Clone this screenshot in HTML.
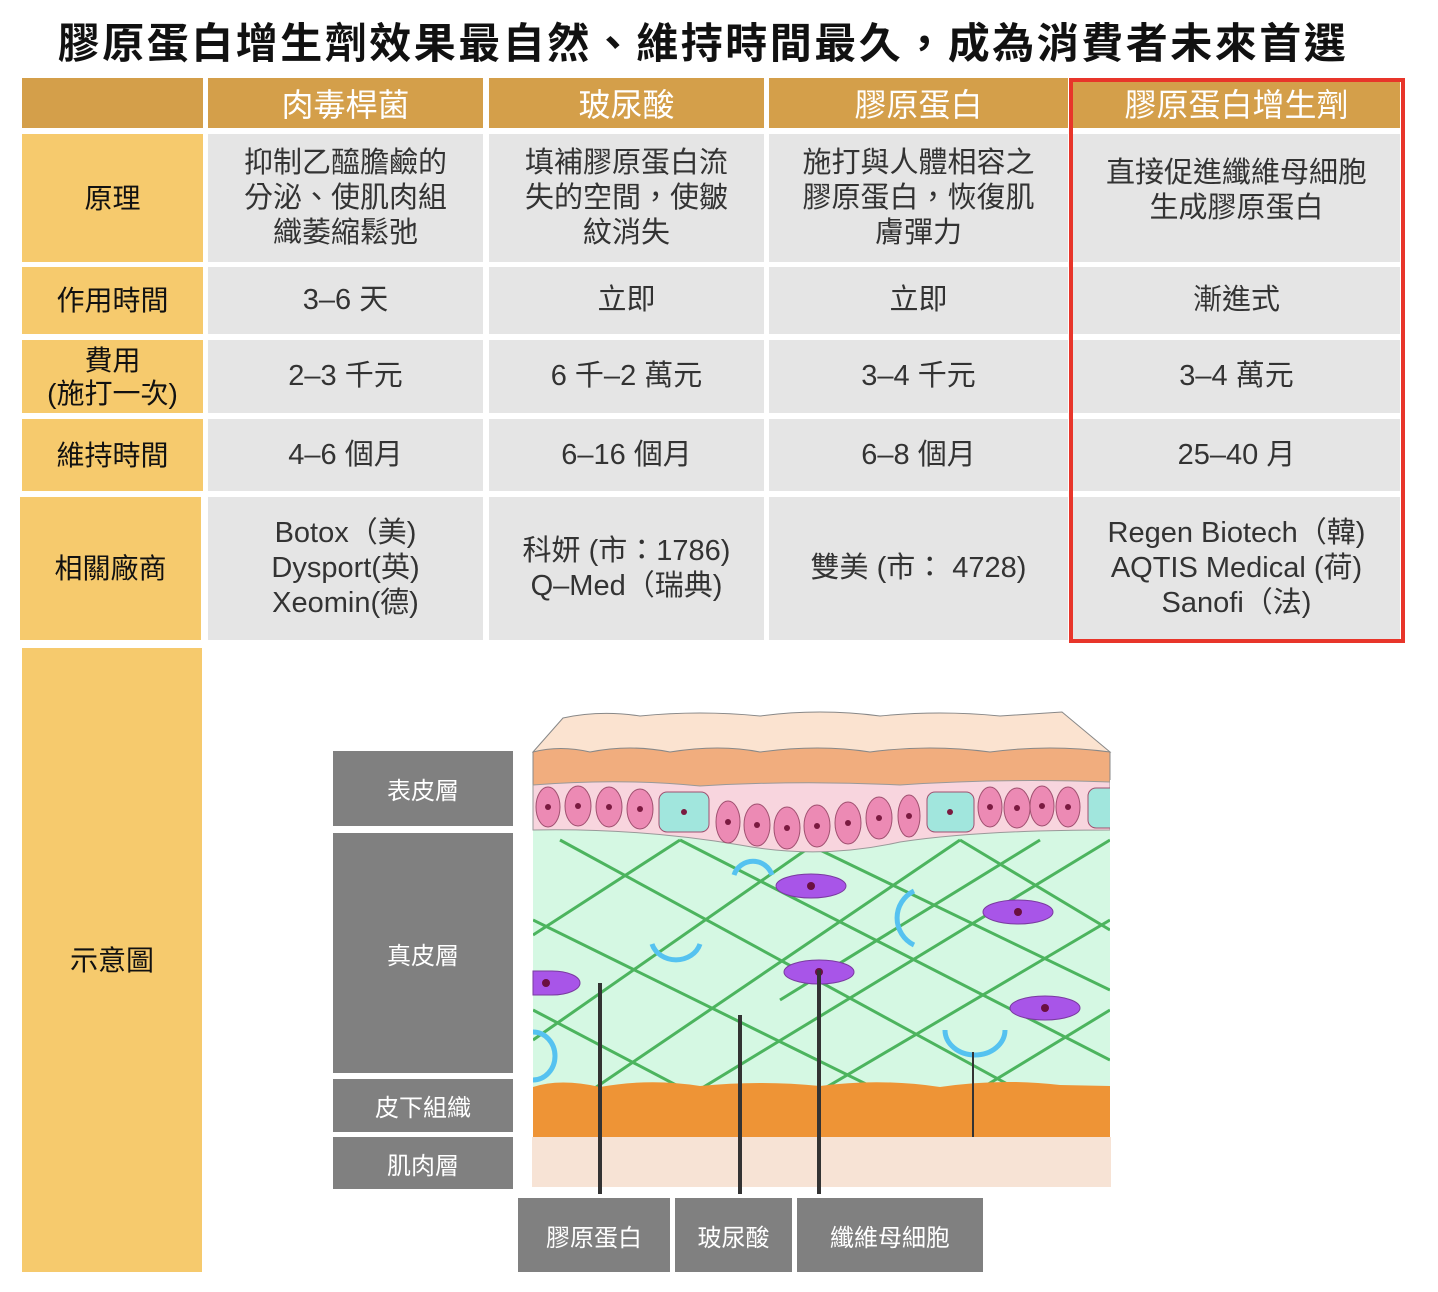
<!DOCTYPE html>
<html><head><meta charset="utf-8"><style>
body{margin:0;width:1438px;height:1292px;background:#fff;position:relative;overflow:hidden;font-family:"Liberation Sans","Noto Sans CJK TC",sans-serif;}
.a{position:absolute;display:flex;align-items:center;justify-content:center;text-align:center;box-sizing:border-box;}
.h{background:#d49f4a;color:#fff;font-size:32px;}
.l{background:#f6ca6d;color:#111;font-size:28px;line-height:33px;}
.d{background:#e5e5e5;color:#333;font-size:29px;line-height:35px;}
.g{background:#808080;color:#fff;font-size:24px;}
</style></head><body>
<div class="a" style="left:0;top:12px;width:1406px;height:56px;font-size:42px;font-weight:bold;color:#111;letter-spacing:2.5px;">膠原蛋白增生劑效果最自然、維持時間最久，成為消費者未來首選</div>

<div class="a h" style="left:22px;top:78px;width:181px;height:50px;"></div>
<div class="a h" style="left:208px;top:78px;width:275px;height:50px;">肉毒桿菌</div>
<div class="a h" style="left:489px;top:78px;width:275px;height:50px;">玻尿酸</div>
<div class="a h" style="left:769px;top:78px;width:299px;height:50px;">膠原蛋白</div>
<div class="a h" style="left:1073px;top:78px;width:327px;height:50px;">膠原蛋白增生劑</div>

<div class="a l" style="left:22px;top:134px;width:181px;height:128px;">原理</div>
<div class="a d" style="left:208px;top:134px;width:275px;height:128px;">抑制乙醯膽鹼的<br>分泌、使肌肉組<br>織萎縮鬆弛</div>
<div class="a d" style="left:489px;top:134px;width:275px;height:128px;">填補膠原蛋白流<br>失的空間，使皺<br>紋消失</div>
<div class="a d" style="left:769px;top:134px;width:299px;height:128px;">施打與人體相容之<br>膠原蛋白，恢復肌<br>膚彈力</div>
<div class="a d" style="left:1073px;top:134px;width:327px;height:128px;padding-bottom:14px;">直接促進纖維母細胞<br>生成膠原蛋白</div>

<div class="a l" style="left:22px;top:267px;width:181px;height:67px;">作用時間</div>
<div class="a d" style="left:208px;top:267px;width:275px;height:67px;">3–6 天</div>
<div class="a d" style="left:489px;top:267px;width:275px;height:67px;">立即</div>
<div class="a d" style="left:769px;top:267px;width:299px;height:67px;">立即</div>
<div class="a d" style="left:1073px;top:267px;width:327px;height:67px;">漸進式</div>

<div class="a l" style="left:22px;top:340px;width:181px;height:73px;">費用<br>(施打一次)</div>
<div class="a d" style="left:208px;top:340px;width:275px;height:73px;">2–3 千元</div>
<div class="a d" style="left:489px;top:340px;width:275px;height:73px;">6 千–2 萬元</div>
<div class="a d" style="left:769px;top:340px;width:299px;height:73px;">3–4 千元</div>
<div class="a d" style="left:1073px;top:340px;width:327px;height:73px;">3–4 萬元</div>

<div class="a l" style="left:22px;top:419px;width:181px;height:72px;">維持時間</div>
<div class="a d" style="left:208px;top:419px;width:275px;height:72px;">4–6 個月</div>
<div class="a d" style="left:489px;top:419px;width:275px;height:72px;">6–16 個月</div>
<div class="a d" style="left:769px;top:419px;width:299px;height:72px;">6–8 個月</div>
<div class="a d" style="left:1073px;top:419px;width:327px;height:72px;">25–40 月</div>

<div class="a l" style="left:20px;top:497px;width:181px;height:143px;">相關廠商</div>
<div class="a d" style="left:208px;top:497px;width:275px;height:143px;">Botox（美)<br>Dysport(英)<br>Xeomin(德)</div>
<div class="a d" style="left:489px;top:497px;width:275px;height:143px;">科妍 (市：1786)<br>Q–Med（瑞典)</div>
<div class="a d" style="left:769px;top:497px;width:299px;height:143px;">雙美 (市： 4728)</div>
<div class="a d" style="left:1073px;top:497px;width:327px;height:143px;">Regen Biotech（韓)<br>AQTIS Medical (荷)<br>Sanofi（法)</div>

<div style="position:absolute;left:1069px;top:78px;width:336px;height:565px;border:4px solid #e8352a;box-sizing:border-box;"></div>

<div class="a l" style="left:22px;top:648px;width:180px;height:624px;">示意圖</div>

<div class="a g" style="left:333px;top:751px;width:180px;height:75px;">表皮層</div>
<div class="a g" style="left:333px;top:833px;width:180px;height:240px;">真皮層</div>
<div class="a g" style="left:333px;top:1079px;width:180px;height:53px;">皮下組織</div>
<div class="a g" style="left:333px;top:1137px;width:180px;height:52px;">肌肉層</div>
<div class="a g" style="left:518px;top:1198px;width:152px;height:74px;">膠原蛋白</div>
<div class="a g" style="left:675px;top:1198px;width:117px;height:74px;">玻尿酸</div>
<div class="a g" style="left:797px;top:1198px;width:186px;height:74px;">纖維母細胞</div>

<svg style="position:absolute;left:0;top:0" width="1438" height="1292">
<defs><clipPath id="c"><rect x="533" y="830" width="577" height="260"/></clipPath></defs>
<rect x="532" y="1137" width="579" height="50" fill="#f7e3d5"/>
<path d="M533 752 L563 718 Q600 710 640 716 Q700 710 760 716 Q820 708 880 716 Q940 710 1000 716 L1062 712 L1110 752 Z" fill="#fbe3d0" stroke="#888" stroke-width="1"/>
<path d="M533 752 Q560 745 590 752 Q630 744 670 752 Q720 744 760 752 Q820 744 870 752 Q930 744 990 752 Q1050 744 1110 752 L1110 790 L533 790 Z" fill="#f1ad7e" stroke="#888" stroke-width="1"/>
<rect x="533" y="828" width="577" height="259" fill="#d5f8e3"/>
<g clip-path="url(#c)" stroke="#4cb45e" stroke-width="3" fill="none">
<path d="M560 840 L1110 1140"/><path d="M680 840 L1110 1060"/><path d="M820 850 L1110 990"/><path d="M960 840 L1110 930"/>
<path d="M533 920 L1000 1150"/><path d="M533 1010 L800 1150"/>
<path d="M680 840 L533 935"/><path d="M820 840 L533 1040"/><path d="M960 840 L533 1130"/><path d="M1110 840 L600 1150"/>
<path d="M1110 920 L720 1150"/><path d="M1110 1010 L880 1150"/><path d="M1040 840 L780 1000"/>
</g>
<path d="M533 785 Q620 778 700 786 Q800 780 900 785 Q1000 778 1110 782 L1110 830 Q980 830 900 842 Q820 860 740 845 Q640 828 533 830 Z" fill="#f8d5de" stroke="#999" stroke-width="1"/>
<g stroke="#a05070" stroke-width="1">
<ellipse cx="548" cy="807" rx="12" ry="20" fill="#ec8ab4"/><ellipse cx="578" cy="806" rx="13" ry="20" fill="#ec8ab4"/><ellipse cx="609" cy="807" rx="13" ry="20" fill="#ec8ab4"/><ellipse cx="640" cy="809" rx="13" ry="20" fill="#ec8ab4"/>
<rect x="659" y="792" width="50" height="40" rx="8" fill="#a1e6dd"/>
<ellipse cx="728" cy="822" rx="12" ry="21" fill="#ec8ab4"/><ellipse cx="757" cy="825" rx="13" ry="21" fill="#ec8ab4"/><ellipse cx="787" cy="828" rx="13" ry="21" fill="#ec8ab4"/><ellipse cx="817" cy="826" rx="13" ry="21" fill="#ec8ab4"/><ellipse cx="848" cy="823" rx="13" ry="21" fill="#ec8ab4"/><ellipse cx="879" cy="818" rx="13" ry="21" fill="#ec8ab4"/><ellipse cx="909" cy="816" rx="11" ry="21" fill="#ec8ab4"/>
<rect x="927" y="792" width="47" height="40" rx="8" fill="#a1e6dd"/>
<ellipse cx="990" cy="807" rx="12" ry="20" fill="#ec8ab4"/><ellipse cx="1017" cy="808" rx="13" ry="20" fill="#ec8ab4"/><ellipse cx="1042" cy="806" rx="12" ry="20" fill="#ec8ab4"/><ellipse cx="1068" cy="807" rx="12" ry="20" fill="#ec8ab4"/>
<rect x="1088" y="788" width="30" height="40" rx="8" fill="#a1e6dd"/>
</g>
<g fill="#7a1a40">
<circle cx="548" cy="807" r="3"/><circle cx="578" cy="806" r="3"/><circle cx="609" cy="807" r="3"/><circle cx="640" cy="809" r="3"/><circle cx="684" cy="812" r="3"/><circle cx="728" cy="822" r="3"/><circle cx="757" cy="825" r="3"/><circle cx="787" cy="828" r="3"/><circle cx="817" cy="826" r="3"/><circle cx="848" cy="823" r="3"/><circle cx="879" cy="818" r="3"/><circle cx="909" cy="816" r="3"/><circle cx="950" cy="812" r="3"/><circle cx="990" cy="807" r="3"/><circle cx="1017" cy="808" r="3"/><circle cx="1042" cy="806" r="3"/><circle cx="1068" cy="807" r="3"/>
</g>
<rect x="1110" y="780" width="10" height="60" fill="#fff"/>
<g fill="#a855e8" stroke="#7a3aa0" stroke-width="1">
<ellipse cx="811" cy="886" rx="35" ry="12"/><ellipse cx="1018" cy="912" rx="35" ry="12"/><ellipse cx="819" cy="972" rx="35" ry="12"/><ellipse cx="1045" cy="1008" rx="35" ry="12"/>
<path d="M533 971 L552 971 A28 12 0 0 1 552 995 L533 995 Z"/>
</g>
<g fill="#6a1040"><circle cx="811" cy="886" r="4"/><circle cx="1018" cy="912" r="4"/><circle cx="819" cy="972" r="4"/><circle cx="1045" cy="1008" r="4"/><circle cx="546" cy="983" r="4"/></g>
<g stroke="#55c2f0" stroke-width="5" fill="none">
<path d="M734 875 A20 20 0 0 1 772 875"/><path d="M914 891 A30 30 0 0 0 914 945"/><path d="M652 944 A25 22 0 0 0 700 944"/><path d="M533 1032 A22 24 0 0 1 533 1080"/><path d="M945 1030 A30 25 0 0 0 1005 1030"/>
</g>
<path d="M533 1087 Q560 1078 600 1087 Q650 1078 700 1086 Q760 1080 820 1086 Q880 1078 940 1087 Q1000 1078 1060 1085 L1110 1086 L1110 1137 L533 1137 Z" fill="#ee9436"/>
<g stroke="#333" stroke-width="4"><line x1="600" y1="983" x2="600" y2="1194"/><line x1="740" y1="1015" x2="740" y2="1194"/><line x1="819" y1="970" x2="819" y2="1194"/></g>
<line x1="973" y1="1052" x2="973" y2="1137" stroke="#333" stroke-width="2"/>
</svg>
</body></html>
